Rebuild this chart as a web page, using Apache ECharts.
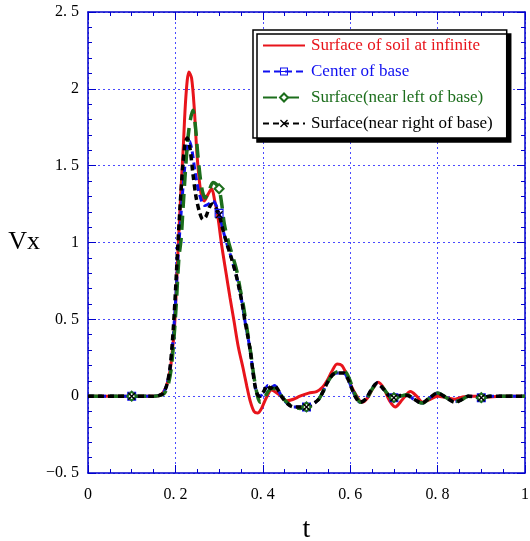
<!DOCTYPE html>
<html>
<head>
<meta charset="utf-8">
<script src="https://cdn.jsdelivr.net/npm/echarts@6/dist/echarts.min.js"></script>
<style>
  html, body { margin: 0; padding: 0; background: #fff; }
  #chart { width: 530px; height: 541px; }
</style>
</head>
<body>
<div id="chart"></div>
<script>
// Horizontal velocity Vx against time t at four observation points

const seriesNames = [
  'Surface of soil at infinite',
  'Center of base',
  'Surface(near left of base)',
  'Surface(near right of base)'
];

const tRed = [0, 0.1, 0.15, 0.163, 0.172, 0.18, 0.188, 0.194, 0.199, 0.206, 0.212, 0.218, 0.224, 0.231, 0.237, 0.243, 0.25, 0.258, 0.266, 0.274, 0.283, 0.29, 0.297, 0.306, 0.316, 0.325, 0.334, 0.344, 0.355, 0.363, 0.371, 0.38, 0.388, 0.397, 0.408, 0.42, 0.437, 0.455, 0.47, 0.485, 0.505, 0.523, 0.537, 0.547, 0.558, 0.57, 0.581, 0.592, 0.605, 0.615, 0.627, 0.64, 0.652, 0.664, 0.677, 0.69, 0.703, 0.72, 0.738, 0.752, 0.766, 0.783, 0.8, 0.82, 0.84, 0.857, 0.874, 0.9, 0.92, 0.95, 1.0];
const vRed = [0, 0, 0, 0.005, 0.025, 0.07, 0.17, 0.32, 0.5, 0.95, 1.3, 1.62, 1.95, 2.11, 2.07, 1.88, 1.55, 1.33, 1.27, 1.31, 1.35, 1.27, 1.17, 0.98, 0.8, 0.64, 0.49, 0.32, 0.18, 0.07, -0.03, -0.1, -0.11, -0.08, -0.01, 0.04, 0.01, -0.03, -0.02, 0.0, 0.02, 0.03, 0.06, 0.1, 0.16, 0.21, 0.2, 0.14, 0.05, 0.0, -0.04, -0.01, 0.05, 0.09, 0.05, -0.03, -0.07, -0.02, 0.03, 0.0, -0.04, -0.02, 0.0, -0.01, -0.02, -0.005, 0.0, 0.0, -0.005, 0, 0];

const tBlue = [0, 0.1, 0.15, 0.163, 0.172, 0.18, 0.188, 0.194, 0.2, 0.206, 0.212, 0.218, 0.225, 0.232, 0.238, 0.245, 0.252, 0.26, 0.268, 0.276, 0.285, 0.292, 0.3, 0.309, 0.318, 0.328, 0.338, 0.346, 0.353, 0.359, 0.365, 0.371, 0.377, 0.382, 0.388, 0.394, 0.403, 0.412, 0.42, 0.427, 0.435, 0.445, 0.457, 0.47, 0.485, 0.5, 0.515, 0.528, 0.538, 0.548, 0.56, 0.572, 0.585, 0.595, 0.605, 0.613, 0.622, 0.635, 0.65, 0.662, 0.675, 0.69, 0.7, 0.715, 0.73, 0.745, 0.764, 0.782, 0.8, 0.82, 0.84, 0.857, 0.87, 0.885, 0.9, 0.92, 0.95, 1.0];
const vBlue = [0, 0, 0, 0.005, 0.02, 0.07, 0.18, 0.35, 0.6, 0.9, 1.15, 1.38, 1.58, 1.66, 1.6, 1.46, 1.35, 1.27, 1.24, 1.25, 1.27, 1.25, 1.19, 1.08, 0.99, 0.9, 0.8, 0.7, 0.6, 0.49, 0.4, 0.3, 0.17, 0.07, 0.01, 0.0, 0.03, 0.07, 0.06, 0.07, 0.04, -0.01, -0.05, -0.07, -0.07, -0.07, -0.05, -0.02, 0.03, 0.09, 0.14, 0.15, 0.15, 0.11, 0.04, -0.01, -0.04, -0.02, 0.05, 0.085, 0.05, 0.0, -0.01, 0.0, 0.01, -0.02, -0.045, -0.01, 0.02, -0.01, -0.035, -0.02, 0.0, -0.005, -0.01, 0.0, 0, 0];

const tGreen = [0, 0.1, 0.15, 0.165, 0.175, 0.183, 0.19, 0.196, 0.202, 0.208, 0.213, 0.217, 0.225, 0.232, 0.24, 0.246, 0.252, 0.26, 0.268, 0.276, 0.286, 0.293, 0.3, 0.306, 0.312, 0.32, 0.33, 0.34, 0.348, 0.355, 0.361, 0.367, 0.373, 0.379, 0.385, 0.39, 0.395, 0.402, 0.412, 0.42, 0.43, 0.44, 0.455, 0.47, 0.485, 0.5, 0.515, 0.528, 0.538, 0.548, 0.56, 0.572, 0.587, 0.597, 0.607, 0.615, 0.624, 0.637, 0.651, 0.663, 0.676, 0.69, 0.7, 0.715, 0.73, 0.746, 0.765, 0.783, 0.8, 0.82, 0.84, 0.857, 0.87, 0.885, 0.9, 0.92, 0.95, 1.0];
const vGreen = [0, 0, 0, 0.005, 0.02, 0.07, 0.17, 0.35, 0.6, 0.9, 1.02, 1.2, 1.55, 1.76, 1.86, 1.75, 1.55, 1.36, 1.29, 1.33, 1.39, 1.38, 1.35, 1.25, 1.12, 1.02, 0.92, 0.82, 0.7, 0.6, 0.49, 0.38, 0.27, 0.14, 0.04, -0.02, -0.04, -0.02, 0.03, 0.05, 0.05, 0.01, -0.04, -0.07, -0.08, -0.07, -0.05, -0.02, 0.03, 0.09, 0.14, 0.16, 0.16, 0.12, 0.04, -0.01, -0.04, -0.02, 0.05, 0.085, 0.05, 0.0, -0.01, 0.0, 0.01, -0.02, -0.045, -0.01, 0.02, -0.01, -0.035, -0.02, 0.0, -0.005, -0.01, 0.0, 0, 0];

const tBlack = [0, 0.1, 0.15, 0.163, 0.172, 0.18, 0.187, 0.193, 0.199, 0.205, 0.211, 0.217, 0.222, 0.227, 0.233, 0.24, 0.247, 0.255, 0.263, 0.27, 0.278, 0.285, 0.292, 0.3, 0.309, 0.318, 0.328, 0.338, 0.346, 0.353, 0.359, 0.365, 0.371, 0.377, 0.382, 0.388, 0.394, 0.402, 0.41, 0.418, 0.426, 0.435, 0.445, 0.457, 0.47, 0.485, 0.5, 0.515, 0.528, 0.538, 0.548, 0.56, 0.572, 0.585, 0.595, 0.605, 0.613, 0.622, 0.635, 0.65, 0.662, 0.675, 0.69, 0.7, 0.715, 0.73, 0.746, 0.764, 0.782, 0.8, 0.82, 0.84, 0.857, 0.87, 0.885, 0.9, 0.92, 0.95, 1.0];
const vBlack = [0, 0, 0, 0.005, 0.02, 0.07, 0.17, 0.35, 0.62, 0.95, 1.25, 1.5, 1.64, 1.68, 1.62, 1.45, 1.3, 1.2, 1.15, 1.17, 1.23, 1.25, 1.23, 1.18, 1.08, 0.99, 0.9, 0.8, 0.7, 0.6, 0.49, 0.4, 0.3, 0.17, 0.07, 0.01, 0.0, 0.03, 0.07, 0.05, 0.07, 0.04, -0.01, -0.05, -0.07, -0.07, -0.07, -0.05, -0.02, 0.03, 0.09, 0.14, 0.15, 0.15, 0.11, 0.04, -0.01, -0.04, -0.02, 0.05, 0.085, 0.05, 0.0, -0.01, 0.005, 0.005, -0.02, -0.045, -0.01, 0.02, -0.01, -0.04, -0.02, 0.0, -0.005, -0.01, 0.0, 0, 0];

// times at which the dashed curves carry a marker
const markerTimes = [0.1, 0.3, 0.5, 0.7, 0.9];

const xTicks = { min: 0, max: 1, interval: 0.2 };
const yTicks = { min: -0.5, max: 2.5, interval: 0.5 };

const COLORS = ['#e8141b', '#1010f0', '#1c6e1c', '#000000'];
const serif = '"Liberation Serif", "DejaVu Serif", serif';

// symbol shapes: boxed square with a bar, and a filled cross
const SQUARE_BAR = 'path://M0,0H10V10H0Z M1.3,1.3V4.4H8.7V1.3Z M1.3,5.6V8.7H8.7V5.6Z';
const CROSS = 'path://M0,1.2L1.2,0L5,3.8L8.8,0L10,1.2L6.2,5L10,8.8L8.8,10L5,6.2L1.2,10L0,8.8L3.8,5Z';

function pairs(ts, vs, withMarkers) {
  return ts.map((t, i) => {
    if (withMarkers && markerTimes.includes(t)) return [t, vs[i]];
    return withMarkers ? { value: [t, vs[i]], symbol: 'none' } : [t, vs[i]];
  });
}

function fmt(v) {
  return String(v).replace('.', '. ').replace('-', '\u2212');
}

const chart = echarts.init(document.getElementById('chart'), null, { renderer: 'canvas' });

const axisBlue = '#0000cc';
const gridBlue = '#4a4aff';

function baseX(extra) {
  return Object.assign({
    type: 'value', min: xTicks.min, max: xTicks.max, interval: xTicks.interval,
    axisLine: { show: true, onZero: false, lineStyle: { color: axisBlue, width: 1.5 } },
    axisTick: { show: true, inside: true, length: 8, lineStyle: { color: axisBlue } },
    minorTick: { show: true, splitNumber: 4, length: 4, lineStyle: { color: axisBlue } },
  }, extra);
}
function baseY(extra) {
  return Object.assign({
    type: 'value', min: yTicks.min, max: yTicks.max, interval: yTicks.interval,
    axisLine: { show: true, onZero: false, lineStyle: { color: axisBlue, width: 1.5 } },
    axisTick: { show: true, inside: true, length: 8, lineStyle: { color: axisBlue } },
    minorTick: { show: true, splitNumber: 5, length: 4, lineStyle: { color: axisBlue } },
  }, extra);
}

const option = {
  animation: false,
  backgroundColor: '#fff',
  grid: { left: 88, right: 5, top: 12, bottom: 68, containLabel: false, outerBoundsMode: 'none' },
  xAxis: [
    baseX({
      position: 'bottom',
      name: 't', nameLocation: 'middle', nameGap: 43,
      nameTextStyle: { fontFamily: serif, fontSize: 28, color: '#000' },
      axisLabel: { formatter: fmt, fontFamily: serif, fontSize: 16, color: '#000', margin: 14 },
      splitLine: { show: true, lineStyle: { color: gridBlue, type: [2, 3], width: 1 } }
    }),
    baseX({ position: 'top', axisLabel: { show: false }, splitLine: { show: false } })
  ],
  yAxis: [
    baseY({
      position: 'left',
      name: 'Vx', nameLocation: 'middle', nameGap: 46, nameRotate: 0,
      nameTextStyle: { fontFamily: serif, fontSize: 26, color: '#000' },
      axisLabel: { formatter: fmt, fontFamily: serif, fontSize: 16, color: '#000', margin: 9 },
      splitLine: { show: true, lineStyle: { color: gridBlue, type: [2, 3], width: 1 } }
    }),
    baseY({ position: 'right', axisLabel: { show: false }, splitLine: { show: false } })
  ],
  legend: {
    show: true,
    orient: 'vertical',
    left: 253, top: 30,
    padding: [7, 14, 6, 9],
    itemWidth: 42, itemHeight: 10, itemGap: 9,
    backgroundColor: '#fff',
    borderColor: '#000', borderWidth: 1.5, borderRadius: 0,
    shadowColor: '#000', shadowBlur: 0, shadowOffsetX: 4, shadowOffsetY: 4,
    textStyle: { fontFamily: serif, fontSize: 17, padding: [0, 0, 0, 1] },
    data: seriesNames.map((n, i) => ({ name: n, textStyle: { color: COLORS[i] } }))
  },
  series: [
    {
      name: seriesNames[0], type: 'line', smooth: 0.3, symbol: 'none',
      data: pairs(tRed, vRed, false),
      lineStyle: { color: COLORS[0], width: 3 },
      itemStyle: { color: 'rgba(0,0,0,0)' }
    },
    {
      name: seriesNames[1], type: 'line', smooth: 0.3, symbol: SQUARE_BAR, symbolSize: 9, showAllSymbol: true,
      data: pairs(tBlue, vBlue, true),
      lineStyle: { color: COLORS[1], width: 3, type: [7, 4] },
      itemStyle: { color: COLORS[1] }
    },
    {
      name: seriesNames[2], type: 'line', smooth: 0.3, symbol: 'emptyDiamond', symbolSize: 9, showAllSymbol: true,
      data: pairs(tGreen, vGreen, true),
      lineStyle: { color: COLORS[2], width: 3.5, type: [14, 8] },
      itemStyle: { color: COLORS[2], borderWidth: 1.5 }
    },
    {
      name: seriesNames[3], type: 'line', smooth: 0.3, symbol: CROSS, symbolSize: 8, showAllSymbol: true,
      data: pairs(tBlack, vBlack, true),
      lineStyle: { color: COLORS[3], width: 3.5, type: [6, 4] },
      itemStyle: { color: COLORS[3] }
    }
  ]
};

chart.setOption(option);
</script>
</body>
</html>
